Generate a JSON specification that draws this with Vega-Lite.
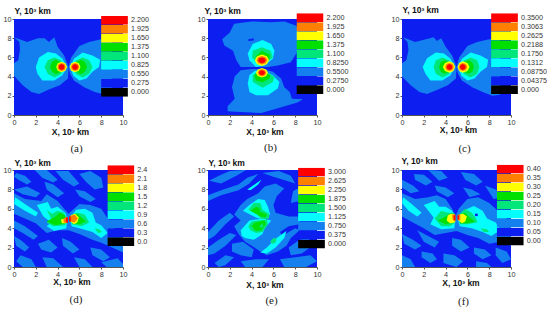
{"$schema":"https://vega.github.io/schema/vega-lite/v6.json","padding":{"left":3,"top":5,"right":0,"bottom":0},"background":"white","config":{"view":{"stroke":null},"axis":{"labelFont":"Liberation Sans","labelFontSize":7.2,"labelColor":"#333","tickSize":2,"tickColor":"#555","domainColor":"#555","grid":false,"labelFlush":false,"labelPadding":1,"tickCount":6,"titleFont":"Liberation Sans","titleFontSize":8.5,"titleFontWeight":"bold","titleColor":"#111"},"legend":{"labelFont":"Liberation Sans","labelFontSize":7.2,"labelColor":"#333"},"title":{"font":"Liberation Serif","fontSize":11,"fontWeight":"normal","orient":"bottom","color":"#222"}},"bounds":"flush","columns":3,"spacing":{"row":55,"column":85},"resolve":{"scale":{"color":"independent","x":"independent","y":"independent"}},"concat":[
{"width":109,"height":96,"title":{"text":"(a)","offset":7,"dx":8},"data":{"values":[
{"p":1,"x":0,"y":0,"b":"0.275"},{"p":1,"x":10,"y":0,"b":"0.275"},{"p":1,"x":10,"y":10,"b":"0.275"},{"p":1,"x":0,"y":10,"b":"0.275"},
{"p":2,"x":0,"y":5.4,"b":"0.550"},{"p":2,"x":0.4,"y":5.7,"b":"0.550"},{"p":2,"x":0.55,"y":6.8,"b":"0.550"},{"p":2,"x":0.5,"y":7.6,"b":"0.550"},{"p":2,"x":0,"y":8.1,"b":"0.550"},{"p":2,"x":1.2,"y":7.6,"b":"0.550"},{"p":2,"x":2.2,"y":8,"b":"0.550"},{"p":2,"x":2.8,"y":8,"b":"0.550"},{"p":2,"x":3.2,"y":7.6,"b":"0.550"},{"p":2,"x":3.7,"y":8.1,"b":"0.550"},{"p":2,"x":4,"y":7.1,"b":"0.550"},{"p":2,"x":4.6,"y":6.2,"b":"0.550"},{"p":2,"x":5,"y":5,"b":"0.550"},{"p":2,"x":4.95,"y":3.8,"b":"0.550"},{"p":2,"x":4.2,"y":3.1,"b":"0.550"},{"p":2,"x":3.2,"y":2.65,"b":"0.550"},{"p":2,"x":2.3,"y":2.2,"b":"0.550"},{"p":2,"x":1.6,"y":2.4,"b":"0.550"},{"p":2,"x":0.8,"y":3.1,"b":"0.550"},{"p":2,"x":0,"y":4.1,"b":"0.550"},
{"p":3,"x":5,"y":5,"b":"0.550"},{"p":3,"x":5.25,"y":6,"b":"0.550"},{"p":3,"x":6,"y":7.2,"b":"0.550"},{"p":3,"x":6.9,"y":7.6,"b":"0.550"},{"p":3,"x":8,"y":7.9,"b":"0.550"},{"p":3,"x":9,"y":7.9,"b":"0.550"},{"p":3,"x":9,"y":2.1,"b":"0.550"},{"p":3,"x":8.4,"y":2.1,"b":"0.550"},{"p":3,"x":7.4,"y":2.4,"b":"0.550"},{"p":3,"x":6.45,"y":2.9,"b":"0.550"},{"p":3,"x":5.5,"y":3.6,"b":"0.550"},{"p":3,"x":5.15,"y":4.3,"b":"0.550"},
{"p":4,"x":2,"y":5,"b":"0.825"},{"p":4,"x":2.3,"y":6,"b":"0.825"},{"p":4,"x":3.1,"y":6.55,"b":"0.825"},{"p":4,"x":3.85,"y":6.4,"b":"0.825"},{"p":4,"x":4.45,"y":5.85,"b":"0.825"},{"p":4,"x":4.85,"y":5,"b":"0.825"},{"p":4,"x":4.45,"y":4.15,"b":"0.825"},{"p":4,"x":3.7,"y":3.6,"b":"0.825"},{"p":4,"x":2.6,"y":3.6,"b":"0.825"},{"p":4,"x":2.15,"y":4.3,"b":"0.825"},
{"p":5,"x":5.15,"y":5,"b":"0.825"},{"p":5,"x":5.5,"y":5.85,"b":"0.825"},{"p":5,"x":6.3,"y":6.5,"b":"0.825"},{"p":5,"x":7.2,"y":6.2,"b":"0.825"},{"p":5,"x":7.9,"y":5.75,"b":"0.825"},{"p":5,"x":7.8,"y":5,"b":"0.825"},{"p":5,"x":7.2,"y":4.5,"b":"0.825"},{"p":5,"x":6.65,"y":3.8,"b":"0.825"},{"p":5,"x":6,"y":3.6,"b":"0.825"},{"p":5,"x":5.45,"y":4.1,"b":"0.825"},
{"p":6,"x":2.8,"y":5,"b":"1.100"},{"p":6,"x":3.1,"y":5.7,"b":"1.100"},{"p":6,"x":3.7,"y":6,"b":"1.100"},{"p":6,"x":4.3,"y":5.7,"b":"1.100"},{"p":6,"x":4.7,"y":5,"b":"1.100"},{"p":6,"x":4.3,"y":4.25,"b":"1.100"},{"p":6,"x":3.7,"y":3.9,"b":"1.100"},{"p":6,"x":3.1,"y":4.3,"b":"1.100"},
{"p":7,"x":5.3,"y":5,"b":"1.100"},{"p":7,"x":5.7,"y":5.7,"b":"1.100"},{"p":7,"x":6.3,"y":6,"b":"1.100"},{"p":7,"x":6.9,"y":5.7,"b":"1.100"},{"p":7,"x":7.2,"y":5,"b":"1.100"},{"p":7,"x":6.9,"y":4.3,"b":"1.100"},{"p":7,"x":6.3,"y":3.9,"b":"1.100"},{"p":7,"x":5.7,"y":4.25,"b":"1.100"},
{"p":8,"x":3.3,"y":5,"b":"1.375"},{"p":8,"x":3.5,"y":5.55,"b":"1.375"},{"p":8,"x":3.85,"y":5.75,"b":"1.375"},{"p":8,"x":4.3,"y":5.5,"b":"1.375"},{"p":8,"x":4.65,"y":5,"b":"1.375"},{"p":8,"x":4.3,"y":4.5,"b":"1.375"},{"p":8,"x":3.85,"y":4.25,"b":"1.375"},{"p":8,"x":3.5,"y":4.5,"b":"1.375"},
{"p":9,"x":5.35,"y":5,"b":"1.375"},{"p":9,"x":5.7,"y":5.5,"b":"1.375"},{"p":9,"x":6.15,"y":5.75,"b":"1.375"},{"p":9,"x":6.5,"y":5.55,"b":"1.375"},{"p":9,"x":6.7,"y":5,"b":"1.375"},{"p":9,"x":6.5,"y":4.5,"b":"1.375"},{"p":9,"x":6.15,"y":4.25,"b":"1.375"},{"p":9,"x":5.7,"y":4.5,"b":"1.375"},
{"p":10,"x":3.87,"y":5,"b":"1.650"},{"p":10,"x":4.02,"y":5.39,"b":"1.650"},{"p":10,"x":4.37,"y":5.55,"b":"1.650"},{"p":10,"x":4.72,"y":5.39,"b":"1.650"},{"p":10,"x":4.87,"y":5,"b":"1.650"},{"p":10,"x":4.72,"y":4.61,"b":"1.650"},{"p":10,"x":4.37,"y":4.45,"b":"1.650"},{"p":10,"x":4.02,"y":4.61,"b":"1.650"},
{"p":11,"x":5.1,"y":5,"b":"1.650"},{"p":11,"x":5.25,"y":5.39,"b":"1.650"},{"p":11,"x":5.6,"y":5.55,"b":"1.650"},{"p":11,"x":5.95,"y":5.39,"b":"1.650"},{"p":11,"x":6.1,"y":5,"b":"1.650"},{"p":11,"x":5.95,"y":4.61,"b":"1.650"},{"p":11,"x":5.6,"y":4.45,"b":"1.650"},{"p":11,"x":5.25,"y":4.61,"b":"1.650"},
{"p":12,"x":3.99,"y":5,"b":"1.925"},{"p":12,"x":4.1,"y":5.3,"b":"1.925"},{"p":12,"x":4.37,"y":5.42,"b":"1.925"},{"p":12,"x":4.64,"y":5.3,"b":"1.925"},{"p":12,"x":4.75,"y":5,"b":"1.925"},{"p":12,"x":4.64,"y":4.7,"b":"1.925"},{"p":12,"x":4.37,"y":4.58,"b":"1.925"},{"p":12,"x":4.1,"y":4.7,"b":"1.925"},
{"p":13,"x":5.22,"y":5,"b":"1.925"},{"p":13,"x":5.33,"y":5.3,"b":"1.925"},{"p":13,"x":5.6,"y":5.42,"b":"1.925"},{"p":13,"x":5.87,"y":5.3,"b":"1.925"},{"p":13,"x":5.98,"y":5,"b":"1.925"},{"p":13,"x":5.87,"y":4.7,"b":"1.925"},{"p":13,"x":5.6,"y":4.58,"b":"1.925"},{"p":13,"x":5.33,"y":4.7,"b":"1.925"},
{"p":14,"x":4.1,"y":5,"b":"2.200"},{"p":14,"x":4.18,"y":5.21,"b":"2.200"},{"p":14,"x":4.37,"y":5.3,"b":"2.200"},{"p":14,"x":4.56,"y":5.21,"b":"2.200"},{"p":14,"x":4.64,"y":5,"b":"2.200"},{"p":14,"x":4.56,"y":4.79,"b":"2.200"},{"p":14,"x":4.37,"y":4.7,"b":"2.200"},{"p":14,"x":4.18,"y":4.79,"b":"2.200"},
{"p":15,"x":5.33,"y":5,"b":"2.200"},{"p":15,"x":5.41,"y":5.21,"b":"2.200"},{"p":15,"x":5.6,"y":5.3,"b":"2.200"},{"p":15,"x":5.79,"y":5.21,"b":"2.200"},{"p":15,"x":5.87,"y":5,"b":"2.200"},{"p":15,"x":5.79,"y":4.79,"b":"2.200"},{"p":15,"x":5.6,"y":4.7,"b":"2.200"},{"p":15,"x":5.41,"y":4.79,"b":"2.200"}
]},"mark":{"type":"line","filled":true,"order":false,"strokeWidth":0},"encoding":{"x":{"field":"x","type":"quantitative","scale":{"domain":[0,10]},"axis":{"title":"X, 10³ km","titleX":56,"titleY":12}},"y":{"field":"y","type":"quantitative","scale":{"domain":[0,10]},"axis":{"title":"Y, 10³ km","titleAngle":0,"titleAlign":"left","titleX":0,"titleY":-4}},"detail":{"field":"p"},"color":{"field":"b","type":"ordinal","scale":{"domain":["2.200","1.925","1.650","1.375","1.100","0.825","0.550","0.275","0.000"],"range":["#ff0000","#ff8000","#ffff00","#00e000","#00e67a","#05fdfd","#1480f0","#0d1ff0","#000000"]},"legend":{"title":null,"orient":"none","legendX":87,"legendY":-3,"symbolType":"M-1,-0.33H1V0.33H-1Z","symbolSize":713,"symbolStrokeWidth":0,"symbolOpacity":1,"clipHeight":8.8,"rowPadding":0,"labelOffset":3,"encoding":{"labels":{"update":{"dy":{"value":-4.4}}}}}}}},
{"width":109,"height":96,"title":{"text":"(b)","offset":6,"dx":8},"data":{"values":[
{"p":1,"x":0,"y":0,"b":"0.2750"},{"p":1,"x":10,"y":0,"b":"0.2750"},{"p":1,"x":10,"y":10,"b":"0.2750"},{"p":1,"x":0,"y":10,"b":"0.2750"},
{"p":2,"x":4,"y":5,"b":"0.5500"},{"p":2,"x":3,"y":5,"b":"0.5500"},{"p":2,"x":2.6,"y":5.7,"b":"0.5500"},{"p":2,"x":2.3,"y":6.7,"b":"0.5500"},{"p":2,"x":1.5,"y":7.25,"b":"0.5500"},{"p":2,"x":1.3,"y":7.9,"b":"0.5500"},{"p":2,"x":2,"y":8.6,"b":"0.5500"},{"p":2,"x":2.4,"y":9.5,"b":"0.5500"},{"p":2,"x":4,"y":9.75,"b":"0.5500"},{"p":2,"x":5.8,"y":9.65,"b":"0.5500"},{"p":2,"x":7,"y":9.75,"b":"0.5500"},{"p":2,"x":8.1,"y":9.3,"b":"0.5500"},{"p":2,"x":8.5,"y":8,"b":"0.5500"},{"p":2,"x":8.1,"y":6.4,"b":"0.5500"},{"p":2,"x":7.6,"y":5.5,"b":"0.5500"},{"p":2,"x":6.4,"y":5.15,"b":"0.5500"},{"p":2,"x":5.5,"y":5,"b":"0.5500"},
{"p":3,"x":3.7,"y":7.9,"b":"0.2750"},{"p":3,"x":4.2,"y":8,"b":"0.2750"},{"p":3,"x":4.2,"y":7.75,"b":"0.2750"},{"p":3,"x":3.7,"y":7.7,"b":"0.2750"},
{"p":4,"x":4,"y":4.8,"b":"0.5500"},{"p":4,"x":3,"y":4.65,"b":"0.5500"},{"p":4,"x":2.45,"y":4,"b":"0.5500"},{"p":4,"x":2.2,"y":2.9,"b":"0.5500"},{"p":4,"x":2.45,"y":1.7,"b":"0.5500"},{"p":4,"x":1.8,"y":0.9,"b":"0.5500"},{"p":4,"x":1.8,"y":0.4,"b":"0.5500"},{"p":4,"x":3,"y":0.3,"b":"0.5500"},{"p":4,"x":4.9,"y":0.2,"b":"0.5500"},{"p":4,"x":6.4,"y":0.7,"b":"0.5500"},{"p":4,"x":8.2,"y":1.3,"b":"0.5500"},{"p":4,"x":8.7,"y":1.65,"b":"0.5500"},{"p":4,"x":7.7,"y":1.7,"b":"0.5500"},{"p":4,"x":7.5,"y":2.4,"b":"0.5500"},{"p":4,"x":7,"y":2.9,"b":"0.5500"},{"p":4,"x":6.7,"y":3.8,"b":"0.5500"},{"p":4,"x":5.95,"y":4.5,"b":"0.5500"},{"p":4,"x":5.2,"y":4.75,"b":"0.5500"},
{"p":5,"x":3.65,"y":6.4,"b":"0.8250"},{"p":5,"x":4.1,"y":7.4,"b":"0.8250"},{"p":5,"x":5,"y":7.8,"b":"0.8250"},{"p":5,"x":5.8,"y":7.4,"b":"0.8250"},{"p":5,"x":6.1,"y":6.7,"b":"0.8250"},{"p":5,"x":5.95,"y":5.85,"b":"0.8250"},{"p":5,"x":5.2,"y":5.15,"b":"0.8250"},{"p":5,"x":4.4,"y":5,"b":"0.8250"},{"p":5,"x":3.8,"y":5.7,"b":"0.8250"},
{"p":6,"x":3.8,"y":4.15,"b":"0.8250"},{"p":6,"x":3.65,"y":3.3,"b":"0.8250"},{"p":6,"x":3.8,"y":2.4,"b":"0.8250"},{"p":6,"x":4.4,"y":2.05,"b":"0.8250"},{"p":6,"x":5.5,"y":2.05,"b":"0.8250"},{"p":6,"x":6.4,"y":2.75,"b":"0.8250"},{"p":6,"x":6.55,"y":3.45,"b":"0.8250"},{"p":6,"x":5.95,"y":4.15,"b":"0.8250"},{"p":6,"x":5,"y":4.65,"b":"0.8250"},{"p":6,"x":4.3,"y":4.6,"b":"0.8250"},
{"p":7,"x":4.05,"y":6,"b":"1.100"},{"p":7,"x":4.1,"y":6.7,"b":"1.100"},{"p":7,"x":4.95,"y":7.05,"b":"1.100"},{"p":7,"x":5.75,"y":6.7,"b":"1.100"},{"p":7,"x":5.95,"y":6,"b":"1.100"},{"p":7,"x":5.2,"y":5.3,"b":"1.100"},{"p":7,"x":4.6,"y":5.2,"b":"1.100"},
{"p":8,"x":4.1,"y":4.15,"b":"1.100"},{"p":8,"x":4.1,"y":3.45,"b":"1.100"},{"p":8,"x":5,"y":2.85,"b":"1.100"},{"p":8,"x":5.95,"y":3.45,"b":"1.100"},{"p":8,"x":6.1,"y":3.95,"b":"1.100"},{"p":8,"x":5.2,"y":4.6,"b":"1.100"},{"p":8,"x":4.6,"y":4.6,"b":"1.100"},
{"p":9,"x":4.35,"y":6.1,"b":"1.375"},{"p":9,"x":4.95,"y":6.7,"b":"1.375"},{"p":9,"x":5.65,"y":6.3,"b":"1.375"},{"p":9,"x":5.65,"y":5.85,"b":"1.375"},{"p":9,"x":5,"y":5.3,"b":"1.375"},{"p":9,"x":4.55,"y":5.5,"b":"1.375"},
{"p":10,"x":4.25,"y":4.15,"b":"1.375"},{"p":10,"x":4.4,"y":3.6,"b":"1.375"},{"p":10,"x":5,"y":3.4,"b":"1.375"},{"p":10,"x":5.65,"y":3.8,"b":"1.375"},{"p":10,"x":5.7,"y":4.15,"b":"1.375"},{"p":10,"x":5,"y":4.6,"b":"1.375"},
{"p":11,"x":4.3,"y":5.7,"b":"1.650"},{"p":11,"x":4.5,"y":6.12,"b":"1.650"},{"p":11,"x":4.95,"y":6.3,"b":"1.650"},{"p":11,"x":5.4,"y":6.12,"b":"1.650"},{"p":11,"x":5.6,"y":5.7,"b":"1.650"},{"p":11,"x":5.4,"y":5.28,"b":"1.650"},{"p":11,"x":4.95,"y":5.1,"b":"1.650"},{"p":11,"x":4.5,"y":5.28,"b":"1.650"},
{"p":12,"x":4.4,"y":4.4,"b":"1.650"},{"p":12,"x":4.56,"y":4.75,"b":"1.650"},{"p":12,"x":4.95,"y":4.9,"b":"1.650"},{"p":12,"x":5.34,"y":4.75,"b":"1.650"},{"p":12,"x":5.5,"y":4.4,"b":"1.650"},{"p":12,"x":5.34,"y":4.05,"b":"1.650"},{"p":12,"x":4.95,"y":3.9,"b":"1.650"},{"p":12,"x":4.56,"y":4.05,"b":"1.650"},
{"p":13,"x":4.45,"y":5.7,"b":"1.925"},{"p":13,"x":4.6,"y":6.02,"b":"1.925"},{"p":13,"x":4.95,"y":6.15,"b":"1.925"},{"p":13,"x":5.3,"y":6.02,"b":"1.925"},{"p":13,"x":5.45,"y":5.7,"b":"1.925"},{"p":13,"x":5.3,"y":5.38,"b":"1.925"},{"p":13,"x":4.95,"y":5.25,"b":"1.925"},{"p":13,"x":4.6,"y":5.38,"b":"1.925"},
{"p":14,"x":4.55,"y":4.4,"b":"1.925"},{"p":14,"x":4.67,"y":4.67,"b":"1.925"},{"p":14,"x":4.95,"y":4.78,"b":"1.925"},{"p":14,"x":5.23,"y":4.67,"b":"1.925"},{"p":14,"x":5.35,"y":4.4,"b":"1.925"},{"p":14,"x":5.23,"y":4.13,"b":"1.925"},{"p":14,"x":4.95,"y":4.02,"b":"1.925"},{"p":14,"x":4.67,"y":4.13,"b":"1.925"},
{"p":15,"x":4.6,"y":5.7,"b":"2.200"},{"p":15,"x":4.7,"y":5.91,"b":"2.200"},{"p":15,"x":4.95,"y":6,"b":"2.200"},{"p":15,"x":5.2,"y":5.91,"b":"2.200"},{"p":15,"x":5.3,"y":5.7,"b":"2.200"},{"p":15,"x":5.2,"y":5.49,"b":"2.200"},{"p":15,"x":4.95,"y":5.4,"b":"2.200"},{"p":15,"x":4.7,"y":5.49,"b":"2.200"},
{"p":16,"x":4.67,"y":4.4,"b":"2.200"},{"p":16,"x":4.75,"y":4.58,"b":"2.200"},{"p":16,"x":4.95,"y":4.65,"b":"2.200"},{"p":16,"x":5.15,"y":4.58,"b":"2.200"},{"p":16,"x":5.23,"y":4.4,"b":"2.200"},{"p":16,"x":5.15,"y":4.22,"b":"2.200"},{"p":16,"x":4.95,"y":4.15,"b":"2.200"},{"p":16,"x":4.75,"y":4.22,"b":"2.200"}
]},"mark":{"type":"line","filled":true,"order":false,"strokeWidth":0},"encoding":{"x":{"field":"x","type":"quantitative","scale":{"domain":[0,10]},"axis":{"title":"X, 10³ km","titleX":56.5,"titleY":12}},"y":{"field":"y","type":"quantitative","scale":{"domain":[0,10]},"axis":{"title":"Y, 10³ km","titleAngle":0,"titleAlign":"left","titleX":-4,"titleY":-4}},"detail":{"field":"p"},"color":{"field":"b","type":"ordinal","scale":{"domain":["2.200","1.925","1.650","1.375","1.100","0.8250","0.5500","0.2750","0.000"],"range":["#ff0000","#ff8000","#ffff00","#00e000","#00e67a","#05fdfd","#1480f0","#0d1ff0","#000000"]},"legend":{"title":null,"orient":"none","legendX":88.4,"legendY":-5.8,"symbolType":"M-1,-0.33H1V0.33H-1Z","symbolSize":713,"symbolStrokeWidth":0,"symbolOpacity":1,"clipHeight":8.8,"rowPadding":0,"labelOffset":3,"encoding":{"labels":{"update":{"dy":{"value":-4.4}}}}}}}},
{"width":109,"height":96,"title":{"text":"(c)","offset":9,"dx":8},"data":{"values":[
{"p":1,"x":0,"y":0,"b":"0.04375"},{"p":1,"x":10,"y":0,"b":"0.04375"},{"p":1,"x":10,"y":10,"b":"0.04375"},{"p":1,"x":0,"y":10,"b":"0.04375"},
{"p":2,"x":0,"y":5.4,"b":"0.08750"},{"p":2,"x":0.4,"y":5.7,"b":"0.08750"},{"p":2,"x":0.6,"y":6.8,"b":"0.08750"},{"p":2,"x":0.5,"y":7.6,"b":"0.08750"},{"p":2,"x":0.1,"y":8.1,"b":"0.08750"},{"p":2,"x":1.2,"y":7.6,"b":"0.08750"},{"p":2,"x":2.2,"y":7.9,"b":"0.08750"},{"p":2,"x":2.9,"y":8.1,"b":"0.08750"},{"p":2,"x":3.2,"y":7.7,"b":"0.08750"},{"p":2,"x":3.6,"y":8,"b":"0.08750"},{"p":2,"x":4,"y":7.1,"b":"0.08750"},{"p":2,"x":4.6,"y":6.2,"b":"0.08750"},{"p":2,"x":5,"y":5,"b":"0.08750"},{"p":2,"x":4.95,"y":3.8,"b":"0.08750"},{"p":2,"x":4.2,"y":3.1,"b":"0.08750"},{"p":2,"x":3.2,"y":2.6,"b":"0.08750"},{"p":2,"x":2.3,"y":2.2,"b":"0.08750"},{"p":2,"x":1.6,"y":2.4,"b":"0.08750"},{"p":2,"x":0.8,"y":3.1,"b":"0.08750"},{"p":2,"x":0,"y":4,"b":"0.08750"},
{"p":3,"x":5,"y":5,"b":"0.08750"},{"p":3,"x":5.25,"y":6,"b":"0.08750"},{"p":3,"x":6,"y":7.2,"b":"0.08750"},{"p":3,"x":6.9,"y":7.6,"b":"0.08750"},{"p":3,"x":8,"y":7.9,"b":"0.08750"},{"p":3,"x":9,"y":7.9,"b":"0.08750"},{"p":3,"x":9,"y":2.1,"b":"0.08750"},{"p":3,"x":8.3,"y":2,"b":"0.08750"},{"p":3,"x":7.4,"y":2.4,"b":"0.08750"},{"p":3,"x":6.45,"y":2.9,"b":"0.08750"},{"p":3,"x":5.5,"y":3.6,"b":"0.08750"},{"p":3,"x":5.15,"y":4.3,"b":"0.08750"},
{"p":4,"x":1.9,"y":5,"b":"0.1312"},{"p":4,"x":2.3,"y":5.9,"b":"0.1312"},{"p":4,"x":3.1,"y":6.5,"b":"0.1312"},{"p":4,"x":3.85,"y":6.4,"b":"0.1312"},{"p":4,"x":4.45,"y":5.85,"b":"0.1312"},{"p":4,"x":4.85,"y":5,"b":"0.1312"},{"p":4,"x":4.45,"y":4.15,"b":"0.1312"},{"p":4,"x":3.7,"y":3.6,"b":"0.1312"},{"p":4,"x":2.6,"y":3.6,"b":"0.1312"},{"p":4,"x":2.15,"y":4.3,"b":"0.1312"},
{"p":5,"x":5.15,"y":5,"b":"0.1312"},{"p":5,"x":5.5,"y":5.85,"b":"0.1312"},{"p":5,"x":6.3,"y":6.5,"b":"0.1312"},{"p":5,"x":7.2,"y":6.2,"b":"0.1312"},{"p":5,"x":7.9,"y":5.75,"b":"0.1312"},{"p":5,"x":7.8,"y":5,"b":"0.1312"},{"p":5,"x":7.2,"y":4.5,"b":"0.1312"},{"p":5,"x":6.65,"y":3.8,"b":"0.1312"},{"p":5,"x":6,"y":3.6,"b":"0.1312"},{"p":5,"x":5.45,"y":4.1,"b":"0.1312"},
{"p":6,"x":2.9,"y":5,"b":"0.1750"},{"p":6,"x":3.1,"y":5.7,"b":"0.1750"},{"p":6,"x":3.7,"y":6,"b":"0.1750"},{"p":6,"x":4.3,"y":5.7,"b":"0.1750"},{"p":6,"x":4.7,"y":5,"b":"0.1750"},{"p":6,"x":4.3,"y":4.25,"b":"0.1750"},{"p":6,"x":3.7,"y":3.9,"b":"0.1750"},{"p":6,"x":3.1,"y":4.3,"b":"0.1750"},
{"p":7,"x":5.3,"y":5,"b":"0.1750"},{"p":7,"x":5.7,"y":5.7,"b":"0.1750"},{"p":7,"x":6.3,"y":6,"b":"0.1750"},{"p":7,"x":6.9,"y":5.7,"b":"0.1750"},{"p":7,"x":7.1,"y":5,"b":"0.1750"},{"p":7,"x":6.9,"y":4.3,"b":"0.1750"},{"p":7,"x":6.3,"y":3.9,"b":"0.1750"},{"p":7,"x":5.7,"y":4.25,"b":"0.1750"},
{"p":8,"x":3.4,"y":5,"b":"0.2188"},{"p":8,"x":3.55,"y":5.5,"b":"0.2188"},{"p":8,"x":3.9,"y":5.7,"b":"0.2188"},{"p":8,"x":4.3,"y":5.5,"b":"0.2188"},{"p":8,"x":4.65,"y":5,"b":"0.2188"},{"p":8,"x":4.3,"y":4.5,"b":"0.2188"},{"p":8,"x":3.9,"y":4.3,"b":"0.2188"},{"p":8,"x":3.55,"y":4.5,"b":"0.2188"},
{"p":9,"x":5.35,"y":5,"b":"0.2188"},{"p":9,"x":5.7,"y":5.5,"b":"0.2188"},{"p":9,"x":6.1,"y":5.7,"b":"0.2188"},{"p":9,"x":6.45,"y":5.5,"b":"0.2188"},{"p":9,"x":6.6,"y":5,"b":"0.2188"},{"p":9,"x":6.45,"y":4.5,"b":"0.2188"},{"p":9,"x":6.1,"y":4.3,"b":"0.2188"},{"p":9,"x":5.7,"y":4.5,"b":"0.2188"},
{"p":10,"x":3.75,"y":5,"b":"0.2625"},{"p":10,"x":3.95,"y":5.42,"b":"0.2625"},{"p":10,"x":4.36,"y":5.6,"b":"0.2625"},{"p":10,"x":4.72,"y":5.42,"b":"0.2625"},{"p":10,"x":4.87,"y":5,"b":"0.2625"},{"p":10,"x":4.72,"y":4.58,"b":"0.2625"},{"p":10,"x":4.36,"y":4.4,"b":"0.2625"},{"p":10,"x":3.95,"y":4.58,"b":"0.2625"},
{"p":11,"x":5.1,"y":5,"b":"0.2625"},{"p":11,"x":5.24,"y":5.42,"b":"0.2625"},{"p":11,"x":5.58,"y":5.6,"b":"0.2625"},{"p":11,"x":6,"y":5.42,"b":"0.2625"},{"p":11,"x":6.2,"y":5,"b":"0.2625"},{"p":11,"x":6,"y":4.58,"b":"0.2625"},{"p":11,"x":5.58,"y":4.4,"b":"0.2625"},{"p":11,"x":5.24,"y":4.58,"b":"0.2625"},
{"p":12,"x":3.95,"y":5,"b":"0.3063"},{"p":12,"x":4.08,"y":5.3,"b":"0.3063"},{"p":12,"x":4.36,"y":5.42,"b":"0.3063"},{"p":12,"x":4.64,"y":5.3,"b":"0.3063"},{"p":12,"x":4.75,"y":5,"b":"0.3063"},{"p":12,"x":4.64,"y":4.7,"b":"0.3063"},{"p":12,"x":4.36,"y":4.58,"b":"0.3063"},{"p":12,"x":4.08,"y":4.7,"b":"0.3063"},
{"p":13,"x":5.2,"y":5,"b":"0.3063"},{"p":13,"x":5.32,"y":5.3,"b":"0.3063"},{"p":13,"x":5.58,"y":5.42,"b":"0.3063"},{"p":13,"x":5.86,"y":5.3,"b":"0.3063"},{"p":13,"x":6,"y":5,"b":"0.3063"},{"p":13,"x":5.86,"y":4.7,"b":"0.3063"},{"p":13,"x":5.58,"y":4.58,"b":"0.3063"},{"p":13,"x":5.32,"y":4.7,"b":"0.3063"},
{"p":14,"x":4.09,"y":5,"b":"0.3500"},{"p":14,"x":4.17,"y":5.21,"b":"0.3500"},{"p":14,"x":4.36,"y":5.3,"b":"0.3500"},{"p":14,"x":4.55,"y":5.21,"b":"0.3500"},{"p":14,"x":4.63,"y":5,"b":"0.3500"},{"p":14,"x":4.55,"y":4.79,"b":"0.3500"},{"p":14,"x":4.36,"y":4.7,"b":"0.3500"},{"p":14,"x":4.17,"y":4.79,"b":"0.3500"},
{"p":15,"x":5.31,"y":5,"b":"0.3500"},{"p":15,"x":5.39,"y":5.21,"b":"0.3500"},{"p":15,"x":5.58,"y":5.3,"b":"0.3500"},{"p":15,"x":5.77,"y":5.21,"b":"0.3500"},{"p":15,"x":5.85,"y":5,"b":"0.3500"},{"p":15,"x":5.77,"y":4.79,"b":"0.3500"},{"p":15,"x":5.58,"y":4.7,"b":"0.3500"},{"p":15,"x":5.39,"y":4.79,"b":"0.3500"}
]},"mark":{"type":"line","filled":true,"order":false,"strokeWidth":0},"encoding":{"x":{"field":"x","type":"quantitative","scale":{"domain":[0,10]},"axis":{"title":"X, 10³ km","titleX":56,"titleY":10}},"y":{"field":"y","type":"quantitative","scale":{"domain":[0,10]},"axis":{"title":"Y, 10³ km","titleAngle":0,"titleAlign":"left","titleX":0,"titleY":-5}},"detail":{"field":"p"},"color":{"field":"b","type":"ordinal","scale":{"domain":["0.3500","0.3063","0.2625","0.2188","0.1750","0.1312","0.08750","0.04375","0.000"],"range":["#ff0000","#ff8000","#ffff00","#00e000","#00e67a","#05fdfd","#1480f0","#0d1ff0","#000000"]},"legend":{"title":null,"orient":"none","legendX":89,"legendY":-5.8,"symbolType":"M-1,-0.33H1V0.33H-1Z","symbolSize":713,"symbolStrokeWidth":0,"symbolOpacity":1,"clipHeight":8.8,"rowPadding":0,"labelOffset":3,"encoding":{"labels":{"update":{"dy":{"value":-4.4}}}}}}}},
{"width":109,"height":97,"title":{"text":"(d)","offset":8,"dx":7.5},"data":{"values":[
{"p":1,"x":0,"y":0,"b":"0.3"},{"p":1,"x":10,"y":0,"b":"0.3"},{"p":1,"x":10,"y":10,"b":"0.3"},{"p":1,"x":0,"y":10,"b":"0.3"},
{"p":2,"x":0,"y":7.6,"b":"0.6"},{"p":2,"x":1,"y":7,"b":"0.6"},{"p":2,"x":2.5,"y":6.8,"b":"0.6"},{"p":2,"x":3,"y":7.5,"b":"0.6"},{"p":2,"x":4,"y":6.8,"b":"0.6"},{"p":2,"x":4.6,"y":6,"b":"0.6"},{"p":2,"x":5,"y":5.5,"b":"0.6"},{"p":2,"x":6,"y":6.5,"b":"0.6"},{"p":2,"x":7,"y":6.4,"b":"0.6"},{"p":2,"x":8,"y":6,"b":"0.6"},{"p":2,"x":8.6,"y":5,"b":"0.6"},{"p":2,"x":9.2,"y":4,"b":"0.6"},{"p":2,"x":10,"y":3.2,"b":"0.6"},{"p":2,"x":10,"y":1.5,"b":"0.6"},{"p":2,"x":9,"y":2,"b":"0.6"},{"p":2,"x":8,"y":2.5,"b":"0.6"},{"p":2,"x":7.2,"y":2.8,"b":"0.6"},{"p":2,"x":6,"y":3.4,"b":"0.6"},{"p":2,"x":5,"y":3.8,"b":"0.6"},{"p":2,"x":4,"y":3.8,"b":"0.6"},{"p":2,"x":3,"y":3.5,"b":"0.6"},{"p":2,"x":2,"y":4.5,"b":"0.6"},{"p":2,"x":1,"y":5,"b":"0.6"},{"p":2,"x":0,"y":5.5,"b":"0.6"},
{"p":3,"x":0.2,"y":9.7,"b":"0.6"},{"p":3,"x":1,"y":9.4,"b":"0.6"},{"p":3,"x":1.6,"y":8.8,"b":"0.6"},{"p":3,"x":1.2,"y":8.5,"b":"0.6"},{"p":3,"x":0.4,"y":9,"b":"0.6"},{"p":3,"x":0,"y":9.3,"b":"0.6"},
{"p":4,"x":1.9,"y":10,"b":"0.6"},{"p":4,"x":3,"y":10,"b":"0.6"},{"p":4,"x":4,"y":9,"b":"0.6"},{"p":4,"x":3.6,"y":8.7,"b":"0.6"},{"p":4,"x":2.6,"y":9.2,"b":"0.6"},
{"p":5,"x":3.8,"y":9.9,"b":"0.6"},{"p":5,"x":5,"y":9.9,"b":"0.6"},{"p":5,"x":6,"y":8.6,"b":"0.6"},{"p":5,"x":5.5,"y":8.3,"b":"0.6"},{"p":5,"x":4.5,"y":9,"b":"0.6"},
{"p":6,"x":6,"y":9.6,"b":"0.6"},{"p":6,"x":7,"y":9.9,"b":"0.6"},{"p":6,"x":8,"y":9.2,"b":"0.6"},{"p":6,"x":8.2,"y":8.2,"b":"0.6"},{"p":6,"x":7.4,"y":8,"b":"0.6"},{"p":6,"x":6.6,"y":8.8,"b":"0.6"},
{"p":7,"x":0,"y":8,"b":"0.6"},{"p":7,"x":1.2,"y":8.3,"b":"0.6"},{"p":7,"x":2.4,"y":7.6,"b":"0.6"},{"p":7,"x":2,"y":7.2,"b":"0.6"},{"p":7,"x":0.8,"y":7.5,"b":"0.6"},
{"p":8,"x":2.8,"y":8.8,"b":"0.6"},{"p":8,"x":3.6,"y":8.5,"b":"0.6"},{"p":8,"x":4.6,"y":7.6,"b":"0.6"},{"p":8,"x":4,"y":7.2,"b":"0.6"},{"p":8,"x":3,"y":8,"b":"0.6"},
{"p":9,"x":5.6,"y":8,"b":"0.6"},{"p":9,"x":6.5,"y":7.8,"b":"0.6"},{"p":9,"x":7.5,"y":7,"b":"0.6"},{"p":9,"x":7,"y":6.7,"b":"0.6"},{"p":9,"x":6,"y":7.3,"b":"0.6"},
{"p":10,"x":0,"y":4.8,"b":"0.6"},{"p":10,"x":1,"y":4.2,"b":"0.6"},{"p":10,"x":2.2,"y":3.2,"b":"0.6"},{"p":10,"x":1.8,"y":2.8,"b":"0.6"},{"p":10,"x":0.8,"y":3.5,"b":"0.6"},{"p":10,"x":0,"y":4,"b":"0.6"},
{"p":11,"x":0,"y":3.2,"b":"0.6"},{"p":11,"x":0.7,"y":2.7,"b":"0.6"},{"p":11,"x":1.4,"y":2,"b":"0.6"},{"p":11,"x":1,"y":1.6,"b":"0.6"},{"p":11,"x":0.2,"y":2.2,"b":"0.6"},
{"p":12,"x":2.2,"y":2.4,"b":"0.6"},{"p":12,"x":3.2,"y":2.8,"b":"0.6"},{"p":12,"x":4,"y":2,"b":"0.6"},{"p":12,"x":3.4,"y":1.5,"b":"0.6"},{"p":12,"x":2.5,"y":1.8,"b":"0.6"},
{"p":13,"x":0.6,"y":1.2,"b":"0.6"},{"p":13,"x":1.6,"y":0.8,"b":"0.6"},{"p":13,"x":2,"y":0,"b":"0.6"},{"p":13,"x":0.8,"y":0,"b":"0.6"},{"p":13,"x":0.2,"y":0.6,"b":"0.6"},
{"p":14,"x":2.6,"y":1,"b":"0.6"},{"p":14,"x":3.6,"y":0.9,"b":"0.6"},{"p":14,"x":4.5,"y":0,"b":"0.6"},{"p":14,"x":3,"y":0,"b":"0.6"},
{"p":15,"x":4.4,"y":3,"b":"0.6"},{"p":15,"x":5.2,"y":2.6,"b":"0.6"},{"p":15,"x":6,"y":1.8,"b":"0.6"},{"p":15,"x":5.4,"y":1.4,"b":"0.6"},{"p":15,"x":4.5,"y":2.2,"b":"0.6"},
{"p":16,"x":5.5,"y":1,"b":"0.6"},{"p":16,"x":6.5,"y":0.8,"b":"0.6"},{"p":16,"x":7.2,"y":0,"b":"0.6"},{"p":16,"x":6,"y":0,"b":"0.6"},
{"p":17,"x":7,"y":2,"b":"0.6"},{"p":17,"x":8,"y":1.8,"b":"0.6"},{"p":17,"x":8.8,"y":1,"b":"0.6"},{"p":17,"x":8.2,"y":0.6,"b":"0.6"},{"p":17,"x":7.2,"y":1.2,"b":"0.6"},
{"p":18,"x":8,"y":0.5,"b":"0.6"},{"p":18,"x":9.5,"y":0.9,"b":"0.6"},{"p":18,"x":10,"y":0.3,"b":"0.6"},{"p":18,"x":10,"y":0,"b":"0.6"},{"p":18,"x":8.5,"y":0,"b":"0.6"},
{"p":19,"x":0.1,"y":7.2,"b":"0.9"},{"p":19,"x":1,"y":6.5,"b":"0.9"},{"p":19,"x":2.2,"y":5.6,"b":"0.9"},{"p":19,"x":2,"y":5.2,"b":"0.9"},{"p":19,"x":1,"y":5.8,"b":"0.9"},{"p":19,"x":0,"y":6.5,"b":"0.9"},
{"p":20,"x":2.1,"y":6.4,"b":"0.9"},{"p":20,"x":3.1,"y":6.7,"b":"0.9"},{"p":20,"x":3.4,"y":6,"b":"0.9"},{"p":20,"x":4,"y":6.2,"b":"0.9"},{"p":20,"x":4.7,"y":5.6,"b":"0.9"},{"p":20,"x":4.9,"y":5,"b":"0.9"},{"p":20,"x":4.8,"y":4,"b":"0.9"},{"p":20,"x":3.7,"y":3.7,"b":"0.9"},{"p":20,"x":3,"y":4.2,"b":"0.9"},{"p":20,"x":3.4,"y":4.6,"b":"0.9"},{"p":20,"x":2.7,"y":5.2,"b":"0.9"},
{"p":21,"x":5.1,"y":5,"b":"0.9"},{"p":21,"x":5.7,"y":5.9,"b":"0.9"},{"p":21,"x":6.5,"y":6,"b":"0.9"},{"p":21,"x":7.2,"y":5.6,"b":"0.9"},{"p":21,"x":7.5,"y":4.6,"b":"0.9"},{"p":21,"x":8,"y":4.3,"b":"0.9"},{"p":21,"x":8.6,"y":3.5,"b":"0.9"},{"p":21,"x":8,"y":3,"b":"0.9"},{"p":21,"x":7.2,"y":3.6,"b":"0.9"},{"p":21,"x":6,"y":4,"b":"0.9"},{"p":21,"x":5.3,"y":4.2,"b":"0.9"},
{"p":22,"x":3,"y":5.9,"b":"1.2"},{"p":22,"x":3.5,"y":5.5,"b":"1.2"},{"p":22,"x":4,"y":5.8,"b":"1.2"},{"p":22,"x":4.6,"y":5.6,"b":"1.2"},{"p":22,"x":4.8,"y":5,"b":"1.2"},{"p":22,"x":4.7,"y":4.3,"b":"1.2"},{"p":22,"x":3.6,"y":4.2,"b":"1.2"},{"p":22,"x":3,"y":4.6,"b":"1.2"},{"p":22,"x":3.4,"y":5,"b":"1.2"},
{"p":23,"x":5.3,"y":4.4,"b":"1.2"},{"p":23,"x":5.3,"y":5.4,"b":"1.2"},{"p":23,"x":5.8,"y":5.6,"b":"1.2"},{"p":23,"x":6.5,"y":5.4,"b":"1.2"},{"p":23,"x":6.9,"y":4.6,"b":"1.2"},{"p":23,"x":6.2,"y":4.2,"b":"1.2"},
{"p":24,"x":7.4,"y":4,"b":"1.2"},{"p":24,"x":7.8,"y":3.9,"b":"1.2"},{"p":24,"x":8.1,"y":3.6,"b":"1.2"},{"p":24,"x":7.7,"y":3.5,"b":"1.2"},
{"p":25,"x":3,"y":4.7,"b":"1.5"},{"p":25,"x":3.8,"y":5.2,"b":"1.5"},{"p":25,"x":4.2,"y":5.6,"b":"1.5"},{"p":25,"x":4.7,"y":5.3,"b":"1.5"},{"p":25,"x":4.8,"y":4.5,"b":"1.5"},{"p":25,"x":3.8,"y":4.3,"b":"1.5"},
{"p":26,"x":5.3,"y":4.5,"b":"1.5"},{"p":26,"x":5.3,"y":5.2,"b":"1.5"},{"p":26,"x":5.8,"y":5.5,"b":"1.5"},{"p":26,"x":6.3,"y":5,"b":"1.5"},{"p":26,"x":6.6,"y":4.7,"b":"1.5"},{"p":26,"x":6,"y":4.4,"b":"1.5"},
{"p":27,"x":4.3,"y":4.9,"b":"1.8"},{"p":27,"x":4.75,"y":5,"b":"1.8"},{"p":27,"x":4.8,"y":4.5,"b":"1.8"},{"p":27,"x":4.4,"y":4.5,"b":"1.8"},
{"p":28,"x":5.2,"y":4.7,"b":"1.8"},{"p":28,"x":5.2,"y":5.3,"b":"1.8"},{"p":28,"x":5.6,"y":5.5,"b":"1.8"},{"p":28,"x":5.95,"y":5.1,"b":"1.8"},{"p":28,"x":5.8,"y":4.6,"b":"1.8"},{"p":28,"x":5.5,"y":4.4,"b":"1.8"},
{"p":29,"x":4.55,"y":5,"b":"2.1"},{"p":29,"x":4.9,"y":5.2,"b":"2.1"},{"p":29,"x":4.9,"y":4.5,"b":"2.1"},{"p":29,"x":4.55,"y":4.6,"b":"2.1"},
{"p":30,"x":5.1,"y":4.7,"b":"2.1"},{"p":30,"x":5.15,"y":5.25,"b":"2.1"},{"p":30,"x":5.55,"y":5.4,"b":"2.1"},{"p":30,"x":5.85,"y":5,"b":"2.1"},{"p":30,"x":5.55,"y":4.6,"b":"2.1"},
{"p":31,"x":4.78,"y":5.1,"b":"2.4"},{"p":31,"x":4.95,"y":5.1,"b":"2.4"},{"p":31,"x":4.95,"y":4.6,"b":"2.4"},{"p":31,"x":4.78,"y":4.6,"b":"2.4"},
{"p":32,"x":5.05,"y":4.7,"b":"2.4"},{"p":32,"x":5.05,"y":5.2,"b":"2.4"},{"p":32,"x":5.2,"y":5.2,"b":"2.4"},{"p":32,"x":5.2,"y":4.7,"b":"2.4"}
]},"mark":{"type":"line","filled":true,"order":false,"strokeWidth":0},"encoding":{"x":{"field":"x","type":"quantitative","scale":{"domain":[0,10]},"axis":{"title":"X, 10³ km","titleX":57.5,"titleY":10.7}},"y":{"field":"y","type":"quantitative","scale":{"domain":[0,10]},"axis":{"title":"Y, 10³ km","titleAngle":0,"titleAlign":"left","titleX":0,"titleY":-3}},"detail":{"field":"p"},"color":{"field":"b","type":"ordinal","scale":{"domain":["2.4","2.1","1.8","1.5","1.2","0.9","0.6","0.3","0.0"],"range":["#ff0000","#ff8000","#ffff00","#00e000","#00e67a","#05fdfd","#1480f0","#0d1ff0","#000000"]},"legend":{"title":null,"orient":"none","legendX":93.3,"legendY":-4.7,"symbolType":"M-1,-0.33H1V0.33H-1Z","symbolSize":713,"symbolStrokeWidth":0,"symbolOpacity":1,"clipHeight":8.8,"rowPadding":0,"labelOffset":3,"encoding":{"labels":{"update":{"dy":{"value":-4.4}}}}}}}},
{"width":109,"height":97,"title":{"text":"(e)","offset":6,"dx":9},"data":{"values":[
{"p":1,"x":0,"y":0,"b":"0.375"},{"p":1,"x":10,"y":0,"b":"0.375"},{"p":1,"x":10,"y":10,"b":"0.375"},{"p":1,"x":0,"y":10,"b":"0.375"},
{"p":2,"x":0.1,"y":8.9,"b":"0.750"},{"p":2,"x":1,"y":9.4,"b":"0.750"},{"p":2,"x":2,"y":9.9,"b":"0.750"},{"p":2,"x":3.5,"y":10,"b":"0.750"},{"p":2,"x":2.6,"y":9.4,"b":"0.750"},{"p":2,"x":1.2,"y":8.6,"b":"0.750"},
{"p":3,"x":0,"y":7.4,"b":"0.750"},{"p":3,"x":1.4,"y":8,"b":"0.750"},{"p":3,"x":2.8,"y":8.5,"b":"0.750"},{"p":3,"x":3.6,"y":9.2,"b":"0.750"},{"p":3,"x":4.6,"y":9.6,"b":"0.750"},{"p":3,"x":3.8,"y":8.6,"b":"0.750"},{"p":3,"x":2.8,"y":7.9,"b":"0.750"},{"p":3,"x":1.2,"y":7.4,"b":"0.750"},{"p":3,"x":0,"y":6.8,"b":"0.750"},
{"p":4,"x":5,"y":9.7,"b":"0.750"},{"p":4,"x":6.5,"y":9.9,"b":"0.750"},{"p":4,"x":7.6,"y":9.4,"b":"0.750"},{"p":4,"x":8,"y":8.6,"b":"0.750"},{"p":4,"x":7.2,"y":8.9,"b":"0.750"},{"p":4,"x":6,"y":9.3,"b":"0.750"},
{"p":5,"x":7.8,"y":7.8,"b":"0.750"},{"p":5,"x":8.4,"y":8.2,"b":"0.750"},{"p":5,"x":8.4,"y":6.8,"b":"0.750"},{"p":5,"x":7.6,"y":6.6,"b":"0.750"},
{"p":6,"x":2.4,"y":5.4,"b":"0.750"},{"p":6,"x":3,"y":6.4,"b":"0.750"},{"p":6,"x":3.6,"y":7,"b":"0.750"},{"p":6,"x":4.6,"y":7.6,"b":"0.750"},{"p":6,"x":5.2,"y":8.3,"b":"0.750"},{"p":6,"x":6.2,"y":8.6,"b":"0.750"},{"p":6,"x":7,"y":8.1,"b":"0.750"},{"p":6,"x":6.3,"y":7.3,"b":"0.750"},{"p":6,"x":6,"y":6.4,"b":"0.750"},{"p":6,"x":6.2,"y":5.6,"b":"0.750"},{"p":6,"x":7.4,"y":5.2,"b":"0.750"},{"p":6,"x":8.4,"y":5.2,"b":"0.750"},{"p":6,"x":8.4,"y":4.4,"b":"0.750"},{"p":6,"x":7.4,"y":4.2,"b":"0.750"},{"p":6,"x":6.6,"y":3.6,"b":"0.750"},{"p":6,"x":6.8,"y":3.2,"b":"0.750"},{"p":6,"x":8,"y":4,"b":"0.750"},{"p":6,"x":8.4,"y":3.8,"b":"0.750"},{"p":6,"x":7.6,"y":3,"b":"0.750"},{"p":6,"x":7.2,"y":2.2,"b":"0.750"},{"p":6,"x":6.4,"y":1.6,"b":"0.750"},{"p":6,"x":5.4,"y":1.2,"b":"0.750"},{"p":6,"x":4.8,"y":1.6,"b":"0.750"},{"p":6,"x":4,"y":2.2,"b":"0.750"},{"p":6,"x":3.4,"y":2.6,"b":"0.750"},{"p":6,"x":2.8,"y":3.4,"b":"0.750"},{"p":6,"x":2.4,"y":4.2,"b":"0.750"},{"p":6,"x":3,"y":4.8,"b":"0.750"},
{"p":7,"x":0,"y":3.6,"b":"0.750"},{"p":7,"x":1,"y":4.8,"b":"0.750"},{"p":7,"x":2,"y":5.6,"b":"0.750"},{"p":7,"x":2.4,"y":5.2,"b":"0.750"},{"p":7,"x":1.6,"y":4.4,"b":"0.750"},{"p":7,"x":0.6,"y":3.2,"b":"0.750"},{"p":7,"x":0,"y":2.8,"b":"0.750"},
{"p":8,"x":0,"y":2,"b":"0.750"},{"p":8,"x":1,"y":2.8,"b":"0.750"},{"p":8,"x":2,"y":3.5,"b":"0.750"},{"p":8,"x":2.6,"y":3.3,"b":"0.750"},{"p":8,"x":1.6,"y":2.2,"b":"0.750"},{"p":8,"x":0.6,"y":1.4,"b":"0.750"},{"p":8,"x":0,"y":1.2,"b":"0.750"},
{"p":9,"x":2.2,"y":2.4,"b":"0.750"},{"p":9,"x":3.2,"y":2.6,"b":"0.750"},{"p":9,"x":4.2,"y":1.8,"b":"0.750"},{"p":9,"x":4,"y":1,"b":"0.750"},{"p":9,"x":3,"y":1.2,"b":"0.750"},{"p":9,"x":2.2,"y":1.6,"b":"0.750"},
{"p":10,"x":0.6,"y":0.4,"b":"0.750"},{"p":10,"x":1.6,"y":1.2,"b":"0.750"},{"p":10,"x":2.4,"y":1,"b":"0.750"},{"p":10,"x":1.6,"y":0.2,"b":"0.750"},{"p":10,"x":1,"y":0,"b":"0.750"},
{"p":11,"x":3,"y":0.6,"b":"0.750"},{"p":11,"x":4.4,"y":0.8,"b":"0.750"},{"p":11,"x":5.6,"y":0.8,"b":"0.750"},{"p":11,"x":5,"y":0,"b":"0.750"},{"p":11,"x":3.4,"y":0,"b":"0.750"},
{"p":12,"x":7.4,"y":2,"b":"0.750"},{"p":12,"x":8.4,"y":2.8,"b":"0.750"},{"p":12,"x":9.2,"y":3,"b":"0.750"},{"p":12,"x":9.6,"y":2.2,"b":"0.750"},{"p":12,"x":8.6,"y":1.4,"b":"0.750"},{"p":12,"x":7.6,"y":1.2,"b":"0.750"},
{"p":13,"x":6.6,"y":0.8,"b":"0.750"},{"p":13,"x":8,"y":1,"b":"0.750"},{"p":13,"x":9.4,"y":1.2,"b":"0.750"},{"p":13,"x":10,"y":0.6,"b":"0.750"},{"p":13,"x":9,"y":0,"b":"0.750"},{"p":13,"x":7,"y":0,"b":"0.750"},
{"p":14,"x":3.6,"y":8,"b":"1.125"},{"p":14,"x":4.4,"y":8.6,"b":"1.125"},{"p":14,"x":4.9,"y":9,"b":"1.125"},{"p":14,"x":4.6,"y":8.5,"b":"1.125"},{"p":14,"x":3.9,"y":7.9,"b":"1.125"},
{"p":15,"x":3.2,"y":5.8,"b":"1.125"},{"p":15,"x":3.8,"y":6.4,"b":"1.125"},{"p":15,"x":4.6,"y":7,"b":"1.125"},{"p":15,"x":5.2,"y":6.9,"b":"1.125"},{"p":15,"x":5.5,"y":6.2,"b":"1.125"},{"p":15,"x":5.7,"y":5.4,"b":"1.125"},{"p":15,"x":5,"y":4.9,"b":"1.125"},{"p":15,"x":4.4,"y":5.1,"b":"1.125"},
{"p":16,"x":3.1,"y":3.2,"b":"1.125"},{"p":16,"x":3,"y":3.8,"b":"1.125"},{"p":16,"x":3.8,"y":4.8,"b":"1.125"},{"p":16,"x":5,"y":5,"b":"1.125"},{"p":16,"x":5.8,"y":4.8,"b":"1.125"},{"p":16,"x":5.2,"y":4,"b":"1.125"},{"p":16,"x":5,"y":3.4,"b":"1.125"},{"p":16,"x":4.2,"y":2.8,"b":"1.125"},{"p":16,"x":3.4,"y":3,"b":"1.125"},
{"p":17,"x":4.8,"y":1.5,"b":"1.125"},{"p":17,"x":5.4,"y":2,"b":"1.125"},{"p":17,"x":6.2,"y":2.9,"b":"1.125"},{"p":17,"x":7.2,"y":3.7,"b":"1.125"},{"p":17,"x":7,"y":3,"b":"1.125"},{"p":17,"x":6.2,"y":2,"b":"1.125"},{"p":17,"x":5.4,"y":1.4,"b":"1.125"},
{"p":18,"x":3.7,"y":5.9,"b":"1.500"},{"p":18,"x":4.2,"y":6.6,"b":"1.500"},{"p":18,"x":4.8,"y":6.6,"b":"1.500"},{"p":18,"x":5,"y":5.9,"b":"1.500"},{"p":18,"x":5.6,"y":5.5,"b":"1.500"},{"p":18,"x":5.6,"y":5,"b":"1.500"},{"p":18,"x":4.9,"y":4.95,"b":"1.500"},{"p":18,"x":4.5,"y":5.4,"b":"1.500"},
{"p":19,"x":3.9,"y":3.8,"b":"1.500"},{"p":19,"x":3.7,"y":4.2,"b":"1.500"},{"p":19,"x":4,"y":4.7,"b":"1.500"},{"p":19,"x":5.4,"y":4.9,"b":"1.500"},{"p":19,"x":5.5,"y":4.4,"b":"1.500"},{"p":19,"x":5,"y":3.6,"b":"1.500"},{"p":19,"x":4.4,"y":3.5,"b":"1.500"},
{"p":20,"x":5.7,"y":2.6,"b":"1.500"},{"p":20,"x":6,"y":3,"b":"1.500"},{"p":20,"x":6.3,"y":2.9,"b":"1.500"},{"p":20,"x":6.2,"y":2.5,"b":"1.500"},{"p":20,"x":5.9,"y":2.4,"b":"1.500"},
{"p":21,"x":3.9,"y":5.8,"b":"1.875"},{"p":21,"x":4.4,"y":6.2,"b":"1.875"},{"p":21,"x":4.7,"y":6.1,"b":"1.875"},{"p":21,"x":4.8,"y":5.7,"b":"1.875"},{"p":21,"x":5.4,"y":5.4,"b":"1.875"},{"p":21,"x":5.3,"y":5.1,"b":"1.875"},{"p":21,"x":4.8,"y":5.2,"b":"1.875"},{"p":21,"x":4.4,"y":5.5,"b":"1.875"},
{"p":22,"x":4,"y":4.2,"b":"1.875"},{"p":22,"x":4.3,"y":4.6,"b":"1.875"},{"p":22,"x":5.2,"y":4.8,"b":"1.875"},{"p":22,"x":5.3,"y":4.4,"b":"1.875"},{"p":22,"x":4.9,"y":3.8,"b":"1.875"},{"p":22,"x":4.4,"y":3.7,"b":"1.875"},
{"p":23,"x":4.7,"y":4.2,"b":"1.500"},{"p":23,"x":5,"y":4.5,"b":"1.500"},{"p":23,"x":5.1,"y":4.2,"b":"1.500"},{"p":23,"x":4.9,"y":4,"b":"1.500"}
]},"mark":{"type":"line","filled":true,"order":false,"strokeWidth":0},"encoding":{"x":{"field":"x","type":"quantitative","scale":{"domain":[0,10]},"axis":{"title":"X, 10³ km","titleX":56.5,"titleY":13}},"y":{"field":"y","type":"quantitative","scale":{"domain":[0,10]},"axis":{"title":"Y, 10³ km","titleAngle":0,"titleAlign":"left","titleX":0,"titleY":-3}},"detail":{"field":"p"},"color":{"field":"b","type":"ordinal","scale":{"domain":["3.000","2.625","2.250","1.875","1.500","1.125","0.750","0.375","0.000"],"range":["#ff0000","#ff8000","#ffff00","#00e000","#00e67a","#05fdfd","#1480f0","#0d1ff0","#000000"]},"legend":{"title":null,"orient":"none","legendX":90,"legendY":-2.3,"symbolType":"M-1,-0.33H1V0.33H-1Z","symbolSize":713,"symbolStrokeWidth":0,"symbolOpacity":1,"clipHeight":8.8,"rowPadding":0,"labelOffset":3,"encoding":{"labels":{"update":{"dy":{"value":-4.4}}}}}}}},
{"width":109,"height":97,"title":{"text":"(f)","offset":9,"dx":7},"data":{"values":[
{"p":1,"x":0,"y":0,"b":"0.05"},{"p":1,"x":10,"y":0,"b":"0.05"},{"p":1,"x":10,"y":10,"b":"0.05"},{"p":1,"x":0,"y":10,"b":"0.05"},
{"p":2,"x":0,"y":7.6,"b":"0.10"},{"p":2,"x":1.2,"y":7,"b":"0.10"},{"p":2,"x":2.4,"y":7.2,"b":"0.10"},{"p":2,"x":3.2,"y":7.4,"b":"0.10"},{"p":2,"x":4,"y":7,"b":"0.10"},{"p":2,"x":4.6,"y":6,"b":"0.10"},{"p":2,"x":4.9,"y":5.2,"b":"0.10"},{"p":2,"x":5.2,"y":6,"b":"0.10"},{"p":2,"x":6,"y":7,"b":"0.10"},{"p":2,"x":7,"y":7.2,"b":"0.10"},{"p":2,"x":8,"y":6.6,"b":"0.10"},{"p":2,"x":9,"y":5.6,"b":"0.10"},{"p":2,"x":10,"y":4.6,"b":"0.10"},{"p":2,"x":10,"y":2.2,"b":"0.10"},{"p":2,"x":9,"y":2.6,"b":"0.10"},{"p":2,"x":8,"y":2.4,"b":"0.10"},{"p":2,"x":7,"y":3,"b":"0.10"},{"p":2,"x":6,"y":3.3,"b":"0.10"},{"p":2,"x":5,"y":3.7,"b":"0.10"},{"p":2,"x":4,"y":3.5,"b":"0.10"},{"p":2,"x":3,"y":3.3,"b":"0.10"},{"p":2,"x":2,"y":4,"b":"0.10"},{"p":2,"x":1,"y":4.6,"b":"0.10"},{"p":2,"x":0,"y":5.2,"b":"0.10"},
{"p":3,"x":1.1,"y":9.6,"b":"0.10"},{"p":3,"x":2,"y":9.5,"b":"0.10"},{"p":3,"x":2.8,"y":8.8,"b":"0.10"},{"p":3,"x":2.2,"y":8.4,"b":"0.10"},{"p":3,"x":1.2,"y":9,"b":"0.10"},
{"p":4,"x":2.4,"y":10,"b":"0.10"},{"p":4,"x":3.6,"y":9.9,"b":"0.10"},{"p":4,"x":4.2,"y":9.2,"b":"0.10"},{"p":4,"x":3.4,"y":8.9,"b":"0.10"},
{"p":5,"x":5.4,"y":9.8,"b":"0.10"},{"p":5,"x":6.6,"y":9.6,"b":"0.10"},{"p":5,"x":7.4,"y":8.8,"b":"0.10"},{"p":5,"x":6.8,"y":8.4,"b":"0.10"},{"p":5,"x":5.8,"y":9,"b":"0.10"},
{"p":6,"x":0,"y":9,"b":"0.10"},{"p":6,"x":1,"y":8.4,"b":"0.10"},{"p":6,"x":1.6,"y":7.8,"b":"0.10"},{"p":6,"x":0.8,"y":7.6,"b":"0.10"},{"p":6,"x":0,"y":8.2,"b":"0.10"},
{"p":7,"x":3,"y":8.4,"b":"0.10"},{"p":7,"x":4,"y":8.2,"b":"0.10"},{"p":7,"x":4.8,"y":7.6,"b":"0.10"},{"p":7,"x":4.2,"y":7.2,"b":"0.10"},{"p":7,"x":3.2,"y":7.8,"b":"0.10"},
{"p":8,"x":5.6,"y":8.2,"b":"0.10"},{"p":8,"x":6.4,"y":8,"b":"0.10"},{"p":8,"x":7.2,"y":7.5,"b":"0.10"},{"p":8,"x":6.2,"y":7.2,"b":"0.10"},
{"p":9,"x":7.6,"y":8.4,"b":"0.10"},{"p":9,"x":8.6,"y":8,"b":"0.10"},{"p":9,"x":9.2,"y":7.2,"b":"0.10"},{"p":9,"x":8.4,"y":7,"b":"0.10"},
{"p":10,"x":0,"y":3.4,"b":"0.10"},{"p":10,"x":1,"y":2.8,"b":"0.10"},{"p":10,"x":1.8,"y":2.2,"b":"0.10"},{"p":10,"x":1.2,"y":1.8,"b":"0.10"},{"p":10,"x":0.2,"y":2.4,"b":"0.10"},
{"p":11,"x":1.4,"y":3.8,"b":"0.10"},{"p":11,"x":2.4,"y":3.2,"b":"0.10"},{"p":11,"x":3.4,"y":2.6,"b":"0.10"},{"p":11,"x":3,"y":2,"b":"0.10"},{"p":11,"x":2,"y":2.6,"b":"0.10"},
{"p":12,"x":1.8,"y":1.6,"b":"0.10"},{"p":12,"x":2.8,"y":1.4,"b":"0.10"},{"p":12,"x":3.2,"y":0.8,"b":"0.10"},{"p":12,"x":2.6,"y":0.4,"b":"0.10"},{"p":12,"x":1.8,"y":1,"b":"0.10"},
{"p":13,"x":0,"y":1.2,"b":"0.10"},{"p":13,"x":0.8,"y":0.8,"b":"0.10"},{"p":13,"x":1.2,"y":0,"b":"0.10"},{"p":13,"x":0,"y":0,"b":"0.10"},
{"p":14,"x":4.6,"y":3,"b":"0.10"},{"p":14,"x":5.4,"y":2.8,"b":"0.10"},{"p":14,"x":6.2,"y":2,"b":"0.10"},{"p":14,"x":5.4,"y":1.6,"b":"0.10"},{"p":14,"x":4.6,"y":2.2,"b":"0.10"},
{"p":15,"x":3.8,"y":1.4,"b":"0.10"},{"p":15,"x":4.8,"y":1.2,"b":"0.10"},{"p":15,"x":5.6,"y":0.6,"b":"0.10"},{"p":15,"x":5,"y":0,"b":"0.10"},{"p":15,"x":3.8,"y":0.4,"b":"0.10"},
{"p":16,"x":6.6,"y":2,"b":"0.10"},{"p":16,"x":7.6,"y":1.8,"b":"0.10"},{"p":16,"x":8.2,"y":1.2,"b":"0.10"},{"p":16,"x":7.4,"y":0.8,"b":"0.10"},{"p":16,"x":6.6,"y":1.4,"b":"0.10"},
{"p":17,"x":8.6,"y":2,"b":"0.10"},{"p":17,"x":9.6,"y":1.6,"b":"0.10"},{"p":17,"x":10,"y":0.8,"b":"0.10"},{"p":17,"x":9.2,"y":0.4,"b":"0.10"},{"p":17,"x":8.6,"y":1.2,"b":"0.10"},
{"p":18,"x":6.8,"y":0.6,"b":"0.10"},{"p":18,"x":7.8,"y":0.4,"b":"0.10"},{"p":18,"x":8.2,"y":0,"b":"0.10"},{"p":18,"x":6.8,"y":0,"b":"0.10"},
{"p":19,"x":0.1,"y":7.2,"b":"0.15"},{"p":19,"x":1,"y":6.4,"b":"0.15"},{"p":19,"x":1.8,"y":5.6,"b":"0.15"},{"p":19,"x":1.4,"y":5.2,"b":"0.15"},{"p":19,"x":0.6,"y":5.8,"b":"0.15"},{"p":19,"x":0,"y":6.6,"b":"0.15"},
{"p":20,"x":2,"y":6.4,"b":"0.15"},{"p":20,"x":3,"y":6.8,"b":"0.15"},{"p":20,"x":3.4,"y":6.2,"b":"0.15"},{"p":20,"x":4,"y":6.2,"b":"0.15"},{"p":20,"x":4.6,"y":5.8,"b":"0.15"},{"p":20,"x":4.9,"y":5,"b":"0.15"},{"p":20,"x":4.8,"y":4,"b":"0.15"},{"p":20,"x":3.6,"y":3.9,"b":"0.15"},{"p":20,"x":2.6,"y":4.4,"b":"0.15"},{"p":20,"x":2.9,"y":5.1,"b":"0.15"},
{"p":21,"x":5.1,"y":5,"b":"0.15"},{"p":21,"x":5.8,"y":5.9,"b":"0.15"},{"p":21,"x":6.6,"y":6.3,"b":"0.15"},{"p":21,"x":7.4,"y":5.8,"b":"0.15"},{"p":21,"x":7.8,"y":5,"b":"0.15"},{"p":21,"x":8.6,"y":4.6,"b":"0.15"},{"p":21,"x":9,"y":3.8,"b":"0.15"},{"p":21,"x":8.2,"y":3.2,"b":"0.15"},{"p":21,"x":7.4,"y":3.6,"b":"0.15"},{"p":21,"x":6.4,"y":4,"b":"0.15"},{"p":21,"x":5.3,"y":4.2,"b":"0.15"},
{"p":22,"x":6.7,"y":5.5,"b":"0.05"},{"p":22,"x":6.95,"y":5.5,"b":"0.05"},{"p":22,"x":6.95,"y":5.25,"b":"0.05"},{"p":22,"x":6.7,"y":5.25,"b":"0.05"},
{"p":23,"x":3,"y":5,"b":"0.20"},{"p":23,"x":3.6,"y":5.8,"b":"0.20"},{"p":23,"x":4.2,"y":5.6,"b":"0.20"},{"p":23,"x":4.8,"y":5.6,"b":"0.20"},{"p":23,"x":4.9,"y":4.6,"b":"0.20"},{"p":23,"x":4.4,"y":4.2,"b":"0.20"},{"p":23,"x":3.6,"y":4.2,"b":"0.20"},
{"p":24,"x":5.3,"y":4.4,"b":"0.20"},{"p":24,"x":5.3,"y":5.5,"b":"0.20"},{"p":24,"x":5.8,"y":6,"b":"0.20"},{"p":24,"x":6.4,"y":5.6,"b":"0.20"},{"p":24,"x":6.8,"y":5,"b":"0.20"},{"p":24,"x":6.9,"y":4.6,"b":"0.20"},{"p":24,"x":6,"y":4.4,"b":"0.20"},
{"p":25,"x":7.2,"y":4,"b":"0.20"},{"p":25,"x":7.8,"y":3.9,"b":"0.20"},{"p":25,"x":8,"y":3.6,"b":"0.20"},{"p":25,"x":7.5,"y":3.6,"b":"0.20"},
{"p":26,"x":3.3,"y":4.8,"b":"0.25"},{"p":26,"x":4,"y":5.2,"b":"0.25"},{"p":26,"x":4.4,"y":5.5,"b":"0.25"},{"p":26,"x":4.8,"y":5.3,"b":"0.25"},{"p":26,"x":4.8,"y":4.6,"b":"0.25"},{"p":26,"x":4,"y":4.4,"b":"0.25"},
{"p":27,"x":5.3,"y":4.5,"b":"0.25"},{"p":27,"x":5.3,"y":5.4,"b":"0.25"},{"p":27,"x":5.8,"y":5.6,"b":"0.25"},{"p":27,"x":6.2,"y":5.1,"b":"0.25"},{"p":27,"x":6.7,"y":4.7,"b":"0.25"},{"p":27,"x":6,"y":4.5,"b":"0.25"},
{"p":28,"x":4.1,"y":4.8,"b":"0.30"},{"p":28,"x":4.2,"y":5.3,"b":"0.30"},{"p":28,"x":4.5,"y":5.5,"b":"0.30"},{"p":28,"x":4.85,"y":5.4,"b":"0.30"},{"p":28,"x":4.85,"y":4.6,"b":"0.30"},{"p":28,"x":4.4,"y":4.5,"b":"0.30"},
{"p":29,"x":5.2,"y":4.8,"b":"0.30"},{"p":29,"x":5.3,"y":5.4,"b":"0.30"},{"p":29,"x":5.6,"y":5.5,"b":"0.30"},{"p":29,"x":5.95,"y":5.2,"b":"0.30"},{"p":29,"x":5.8,"y":4.7,"b":"0.30"},{"p":29,"x":5.5,"y":4.5,"b":"0.30"},
{"p":30,"x":4.6,"y":5.4,"b":"0.35"},{"p":30,"x":4.9,"y":5.4,"b":"0.35"},{"p":30,"x":4.9,"y":4.7,"b":"0.35"},{"p":30,"x":4.65,"y":4.85,"b":"0.35"},
{"p":31,"x":5.12,"y":4.8,"b":"0.35"},{"p":31,"x":5.12,"y":5.4,"b":"0.35"},{"p":31,"x":5.35,"y":5.4,"b":"0.35"},{"p":31,"x":5.35,"y":4.8,"b":"0.35"},
{"p":32,"x":4.75,"y":5.3,"b":"0.40"},{"p":32,"x":4.9,"y":5.3,"b":"0.40"},{"p":32,"x":4.9,"y":4.8,"b":"0.40"},{"p":32,"x":4.75,"y":4.9,"b":"0.40"},
{"p":33,"x":5.1,"y":4.9,"b":"0.40"},{"p":33,"x":5.1,"y":5.3,"b":"0.40"},{"p":33,"x":5.22,"y":5.3,"b":"0.40"},{"p":33,"x":5.22,"y":4.9,"b":"0.40"}
]},"mark":{"type":"line","filled":true,"order":false,"strokeWidth":0},"encoding":{"x":{"field":"x","type":"quantitative","scale":{"domain":[0,10]},"axis":{"title":"X, 10³ km","titleX":58.5,"titleY":11}},"y":{"field":"y","type":"quantitative","scale":{"domain":[0,10]},"axis":{"title":"Y, 10³ km","titleAngle":0,"titleAlign":"left","titleX":-1,"titleY":-5}},"detail":{"field":"p"},"color":{"field":"b","type":"ordinal","scale":{"domain":["0.40","0.35","0.30","0.25","0.20","0.15","0.10","0.05","0.00"],"range":["#ff0000","#ff8000","#ffff00","#00e000","#00e67a","#05fdfd","#1480f0","#0d1ff0","#000000"]},"legend":{"title":null,"orient":"none","legendX":94.7,"legendY":-5.3,"symbolType":"M-1,-0.33H1V0.33H-1Z","symbolSize":713,"symbolStrokeWidth":0,"symbolOpacity":1,"clipHeight":8.8,"rowPadding":0,"labelOffset":3,"encoding":{"labels":{"update":{"dy":{"value":-4.4}}}}}}}}
]}
